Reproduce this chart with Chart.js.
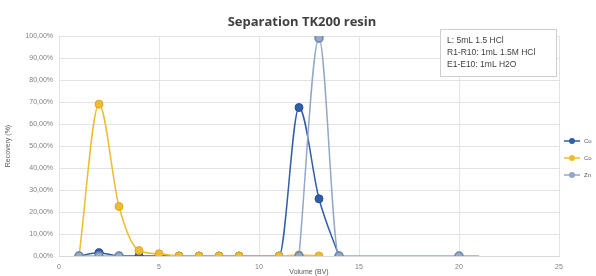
<!DOCTYPE html>
<html><head><meta charset="utf-8">
<script src="https://cdn.jsdelivr.net/npm/chart.js@4"></script>
<style>html,body{margin:0;padding:0;background:#fff}#wrap{width:596px;height:276px;position:relative}</style>
</head><body><div id="wrap"><canvas id="c" width="596" height="276"></canvas></div>
<script>
const chartTitle = "Separation TK200 resin";
const xTitle = "Volume (BV)";
const yTitle = "Recovery (%)";
const noteLines = ["L: 5mL 1.5 HCl", "R1-R10: 1mL 1.5M HCl", "E1-E10: 1mL H2O"];
const seriesNames = ["Cu", "Co", "Zn"];
const cuX = [1, 2, 3, 4, 5, 6, 7, 8, 9, 11, 12, 13, 14];
const cuY = [0, 1.5, 0, 0, 0, 0, 0, 0, 0, 0, 67.5, 26, 0];
const coX = [1, 2, 3, 4, 5, 6, 7, 8, 9, 11, 12, 13];
const coY = [0, 69, 22.5, 2.5, 1, 0, 0, 0, 0, 0, 0.5, 0];
const znX = [1, 2, 3, 4, 12, 13, 14, 20, 21];
const znY = [0, 0, 0, null, 0, 99, 0, 0, 0];

const colors = { Cu: "#2f5fa7", Co: "#eebd2f", Zn: "#93a9c6" };
const borders = { Cu: "#2a4f8c", Co: "#d9a91f", Zn: "#6f86a6" };
function pts(xs, ys) { return xs.map((x, i) => ({ x: x, y: ys[i] })); }
function runs(xs, ys) {
  const out = []; let cur = [];
  xs.forEach((x, i) => {
    if (ys[i] === null) { if (cur.length) out.push(cur); cur = []; }
    else cur.push({ x: x, y: ys[i] });
  });
  if (cur.length) out.push(cur);
  return out;
}

function makeSet(name, data, order, radius) {
  return { label: name, order: order, data: data, showLine: true, tension: 0.4,
    cubicInterpolationMode: "monotone",
    borderColor: colors[name], backgroundColor: colors[name],
    pointBackgroundColor: colors[name], pointBorderColor: borders[name],
    borderWidth: 1.5, pointRadius: radius, pointBorderWidth: name === "Zn" ? 1.5 : 1 };
}

const znRuns = runs(znX, znY);
const datasets = [
  makeSet("Cu", pts(cuX, cuY), 3, 4),
  makeSet("Co", pts(coX, coY), 2, 4)
];
znRuns.forEach((r, k) => {
  const rad = r.map((p, j) => (k === znRuns.length - 1 && j === r.length - 1) ? 0 : 4);
  datasets.push(makeSet("Zn", r, 1, rad));
});

const notePlugin = {
  id: "note",
  afterDraw(chart) {
    const ctx = chart.ctx;
    ctx.save();
    ctx.fillStyle = "#404040";
    ctx.font = "bold 13px 'Open Sans', 'Liberation Sans', sans-serif";
    ctx.textAlign = "center";
    ctx.textBaseline = "middle";
    ctx.fillText(chartTitle, 302, 22);
    ctx.textAlign = "left";
    ctx.fillStyle = "#fff";
    ctx.strokeStyle = "#cfcfcf";
    ctx.lineWidth = 1;
    ctx.fillRect(440.5, 29.5, 116, 47);
    ctx.strokeRect(440.5, 29.5, 116, 47);
    ctx.fillStyle = "#404040";
    ctx.font = "8.5px 'Liberation Sans', Arial, sans-serif";
    noteLines.forEach((t, i) => ctx.fillText(t, 447, 41 + i * 12));
    seriesNames.forEach((name, i) => {
      const y = 141 + i * 17;
      ctx.strokeStyle = colors[name];
      ctx.lineWidth = 1.5;
      ctx.beginPath(); ctx.moveTo(564, y); ctx.lineTo(580, y); ctx.stroke();
      ctx.fillStyle = colors[name];
      ctx.beginPath(); ctx.arc(572, y, 3, 0, Math.PI * 2); ctx.fill();
      ctx.fillStyle = "#595959";
      ctx.font = "6px 'Liberation Sans', Arial, sans-serif";
      ctx.fillText(name, 584, y);
    });
    ctx.restore();
  }
};

new Chart(document.getElementById("c"), {
  type: "scatter",
  data: { datasets: datasets },
  options: {
    responsive: false, animation: false, devicePixelRatio: 1,
    elements: { line: { capBezierPoints: false } },
    layout: { padding: { left: 4, right: 37, top: 36, bottom: 0 } },
    plugins: {
      legend: { display: false },
      tooltip: { enabled: false },
      title: { display: false }
    },
    scales: {
      x: {
        type: "linear", min: 0, max: 25,
        ticks: { stepSize: 5, color: "#7f7f7f", font: { size: 7 }, padding: 7, maxRotation: 0 },
        grid: { color: "#e3e3e3", drawTicks: false },
        border: { color: "#d9d9d9" },
        title: { display: true, text: xTitle, color: "#595959", font: { size: 7 }, padding: { top: 0, bottom: 0 } },
        afterFit(s) { s.height = 20; }
      },
      y: {
        min: 0, max: 100,
        ticks: { stepSize: 10, color: "#7f7f7f", font: { size: 7 }, padding: 6,
          callback: v => v.toFixed(2).replace(".", ",") + "%" },
        grid: { color: "#e3e3e3", drawTicks: false },
        border: { display: false },
        title: { display: true, text: yTitle, color: "#595959", font: { size: 7 }, padding: { top: 0, bottom: 0 } },
        afterFit(s) { s.width = 55; }
      }
    }
  },
  plugins: [notePlugin]
});
</script></body></html>
